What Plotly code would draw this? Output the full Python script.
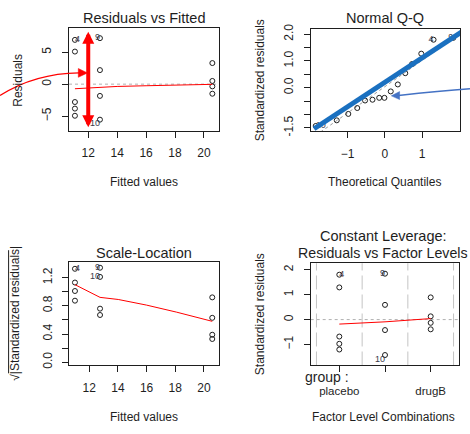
import plotly.graph_objects as go

# ---------------- data ----------------
# Panel 1: Residuals vs Fitted
rvf_fitted = [11.08, 11.08, 11.08, 11.08, 11.08, 12.81, 12.81, 12.81, 12.81, 20.58, 20.58, 20.58, 20.58]
rvf_resid = [6.93, 5.10, -2.80, -3.83, -4.95, 7.20, 2.20, -1.84, -5.56, 3.30, 0.50, -0.35, -1.50]
rvf_smooth_x = [11.08, 12.0, 12.81, 14.0, 16.0, 18.0, 20.58]
rvf_smooth_y = [-0.72, -0.58, -0.45, -0.36, -0.25, -0.15, -0.03]
rvf_ids = ["4", "9", "10"]
rvf_id_x = [11.08, 12.81, 12.81]
rvf_id_y = [6.93, 7.20, -5.56]
rvf_id_pos = ["middle right", "middle left", "bottom left"]
rvf_xticks = [12, 14, 16, 18, 20]
rvf_yticks = [-5, 0, 5]

# Panel 2: Normal Q-Q
qq_theoretical = [-1.855, -1.29, -0.98, -0.74, -0.53, -0.33, -0.15, -0.01, 0.16, 0.35, 0.55, 0.73, 0.98, 1.31, 1.84]
qq_std_resid = [-1.43, -1.22, -0.98, -0.76, -0.48, -0.45, -0.38, -0.38, -0.14, 0.12, 0.54, 0.88, 1.27, 1.79, 1.86]
qq_ids = ["10", "4", "9"]
qq_id_x = [-1.855, 1.31, 1.84]
qq_id_y = [-1.43, 1.79, 1.86]
qq_id_pos = ["middle right", "middle left", "middle left"]
qq_ref_intercept = 0.035
qq_ref_slope = 0.98
qq_highlight_x = [-1.90, 2.07]
qq_highlight_y = [-1.535, 2.09]
qq_xticks = [-1, 0, 1]
qq_yticks = [-1.5, -1.0, -0.5, 0.0, 0.5, 1.0, 1.5, 2.0]
qq_yticktext = ["-1.5", "", "", "0.0", "", "1.0", "", "2.0"]

# Panel 3: Scale-Location
sl_fitted = [11.0, 11.0, 11.0, 11.0, 12.75, 12.75, 12.75, 12.75, 20.58, 20.58, 20.58, 20.58]
sl_sqrt_std = [1.325, 1.13, 1.01, 0.873, 1.34, 1.21, 0.76, 0.67, 0.92, 0.63, 0.39, 0.33]
sl_smooth_x = [11.0, 12.75, 14.02, 16.0, 18.1, 20.58]
sl_smooth_y = [1.10, 0.92, 0.89, 0.81, 0.71, 0.58]
sl_ids = ["4", "9", "10"]
sl_id_x = [11.0, 12.75, 12.75]
sl_id_y = [1.325, 1.34, 1.21]
sl_id_pos = ["middle right", "middle left", "middle left"]
sl_xticks = [12, 14, 16, 18, 20]
sl_yticks = [0.0, 0.2, 0.4, 0.6, 0.8, 1.0, 1.2]
sl_yticktext = ["0.0", "", "0.4", "", "0.8", "", "1.2"]

# Panel 4: Constant Leverage
cl_level_pos = [0, 1, 2]
cl_level_labels = ["placebo", "", "drugB"]
cl_x = [0, 0, 0, 0, 0, 1, 1, 1, 1, 2, 2, 2, 2]
cl_std_resid = [1.80, 1.29, -0.68, -0.97, -1.20, 1.84, 0.59, -0.42, -1.42, 0.89, 0.13, -0.13, -0.39]
cl_smooth_x = [0, 1, 2]
cl_smooth_y = [-0.18, -0.09, 0.04]
cl_separators = [-0.5, 0.5, 1.5, 2.5]
cl_ids = ["4", "9", "10"]
cl_id_x = [0, 1, 1]
cl_id_y = [1.80, 1.84, -1.42]
cl_id_pos = ["middle right", "middle left", "bottom left"]
cl_yticks = [-1, 0, 1, 2]

# ---------------- styling ----------------
W, H = 470, 434
FONT = "Liberation Sans, Arial, sans-serif"
INK = "#1e1e1e"
ID_COL = "#3a3a4a"


def px(x):
    return x / W


def py(y):
    return 1 - y / H


def xaxis(domain, rng, tickvals, anchor, ticktext=None, standoff=5):
    d = dict(domain=domain, range=rng, tickvals=tickvals, anchor=anchor, showline=True, mirror=True,
             linecolor=INK, linewidth=1, ticks="outside", ticklen=6, tickcolor=INK,
             showgrid=False, zeroline=False, fixedrange=True,
             tickfont=dict(family=FONT, size=12, color=INK), ticklabelstandoff=standoff)
    if ticktext is not None:
        d["ticktext"] = ticktext
    return d


def yaxis(domain, rng, tickvals, anchor, ticktext=None, standoff=6):
    d = xaxis(domain, rng, tickvals, anchor, ticktext, standoff)
    d["tickangle"] = -90
    return d


fig = go.Figure()
marker = dict(symbol="circle-open", size=5, color=INK, line=dict(width=1, color=INK))
idfont = dict(family=FONT, size=9, color=ID_COL)

# Panel 1
fig.add_trace(go.Scatter(x=rvf_fitted, y=rvf_resid, mode="markers", marker=marker, xaxis="x", yaxis="y"))
fig.add_trace(go.Scatter(x=rvf_smooth_x, y=rvf_smooth_y, mode="lines", line=dict(color="red", width=1),
                         xaxis="x", yaxis="y"))
fig.add_trace(go.Scatter(x=rvf_id_x, y=rvf_id_y, mode="text", text=rvf_ids, textposition=rvf_id_pos,
                         textfont=idfont, xaxis="x", yaxis="y"))

# Panel 2
xr2 = [-1.99, 2.02]
fig.add_trace(go.Scatter(x=xr2, y=[qq_ref_intercept + qq_ref_slope * v for v in xr2], mode="lines",
                         line=dict(color="#9a9a9a", width=1, dash="dot"), xaxis="x2", yaxis="y2"))
fig.add_trace(go.Scatter(x=qq_theoretical, y=qq_std_resid, mode="markers", marker=marker, xaxis="x2", yaxis="y2"))
fig.add_trace(go.Scatter(x=qq_id_x, y=qq_id_y, mode="text", text=qq_ids, textposition=qq_id_pos,
                         textfont=idfont, xaxis="x2", yaxis="y2"))
fig.add_trace(go.Scatter(x=qq_highlight_x, y=qq_highlight_y, mode="lines",
                         line=dict(color="#1a70c0", width=5), xaxis="x2", yaxis="y2"))

# Panel 3
fig.add_trace(go.Scatter(x=sl_fitted, y=sl_sqrt_std, mode="markers", marker=marker, xaxis="x3", yaxis="y3"))
fig.add_trace(go.Scatter(x=sl_smooth_x, y=sl_smooth_y, mode="lines", line=dict(color="red", width=1),
                         xaxis="x3", yaxis="y3"))
fig.add_trace(go.Scatter(x=sl_id_x, y=sl_id_y, mode="text", text=sl_ids, textposition=sl_id_pos,
                         textfont=idfont, xaxis="x3", yaxis="y3"))

# Panel 4
fig.add_trace(go.Scatter(x=cl_x, y=cl_std_resid, mode="markers", marker=marker, xaxis="x4", yaxis="y4"))
fig.add_trace(go.Scatter(x=cl_smooth_x, y=cl_smooth_y, mode="lines", line=dict(color="red", width=1),
                         xaxis="x4", yaxis="y4"))
fig.add_trace(go.Scatter(x=cl_id_x, y=cl_id_y, mode="text", text=cl_ids, textposition=cl_id_pos,
                         textfont=idfont, xaxis="x4", yaxis="y4"))

shapes = []
# dotted zero lines
for xr, yr in [("x domain", "y"), ("x4 domain", "y4")]:
    shapes.append(dict(type="line", xref=xr, yref=yr, x0=0, x1=1, y0=0, y1=0, layer="below",
                       line=dict(color="#b0b0b0", width=1, dash="dot")))
# factor separators
for s in cl_separators:
    shapes.append(dict(type="line", xref="x4", yref="y4 domain", x0=s, x1=s, y0=0, y1=1, layer="below",
                       line=dict(color="#c4c4c4", width=1, dash="14px,5px")))


def P(x, y):
    return f"{px(x):.5f},{py(y):.5f}"


# red curved arrow (left of panel 1)
shapes.append(dict(type="path", xref="paper", yref="paper",
                   path=f"M{P(0, 92.7)} Q{P(35, 70)} {P(79, 69.5)}",
                   line=dict(color="red", width=1.2)))
shapes.append(dict(type="path", xref="paper", yref="paper",
                   path=f"M{P(87.5, 69.5)} L{P(78.3, 65.0)} L{P(78.3, 74.0)} Z",
                   fillcolor="red", line=dict(color="red", width=0.5)))
# blue curved arrow (right of panel 2)
shapes.append(dict(type="path", xref="paper", yref="paper",
                   path=f"M{P(470, 85.7)} Q{P(440, 87.8)} {P(398.5, 92.6)}",
                   line=dict(color="#4472c4", width=1.5)))
shapes.append(dict(type="path", xref="paper", yref="paper",
                   path=f"M{P(391.3, 93.0)} L{P(399.6, 88.6)} L{P(399.6, 96.8)} Z",
                   fillcolor="#4472c4", line=dict(color="#4472c4", width=0.5)))
# overline of sqrt in Scale-Location y label
shapes.append(dict(type="line", xref="paper", yref="paper", x0=px(8.6), x1=px(8.6), y0=py(377), y1=py(251),
                   line=dict(color=INK, width=1)))

annotations = []


def txt(x, y, s, size=12, angle=0, anchor="center"):
    annotations.append(dict(x=px(x), y=py(y), xref="paper", yref="paper", text=s, showarrow=False,
                            textangle=angle, xanchor=anchor, yanchor="middle",
                            font=dict(family=FONT, size=size, color=INK)))


# titles
txt(144, 13.5, "Residuals vs Fitted", 14.5)
txt(385, 13.5, "Normal Q-Q", 14.5)
txt(144, 253.5, "Scale-Location", 14.5)
txt(383, 236, "Constant Leverage:", 14.5)
txt(382.5, 253.5, "Residuals vs Factor Levels", 14.2)
# axis titles
txt(144, 181.5, "Fitted values")
txt(18.5, 77, "Residuals", angle=-90)
txt(384.5, 181.5, "Theoretical Quantiles")
txt(260, 77, "Standardized residuals", angle=-90)
txt(144, 421.5, "Fitted values")
txt(15, 316, "\u221a|Standardized residuals|", angle=-90)
txt(383.5, 421.5, "Factor Level Combinations")
txt(260, 316.5, "Standardized residuals", angle=-90)
txt(303, 381, "group :", 14, anchor="left")

# thick red double arrows on panel 1
for (x0, ytop, ybot) in [(12.0, 8.22, -7.0), (21.45, 4.85, -3.06)]:
    annotations.append(dict(x=x0, y=ytop, ax=x0, ay=ybot, xref="x", yref="y", axref="x", ayref="y",
                            text="", showarrow=True, arrowside="end+start", arrowhead=2, startarrowhead=2,
                            arrowsize=0.6, startarrowsize=0.6, arrowwidth=4, arrowcolor="red",
                            standoff=0, startstandoff=0))

fig.update_layout(
    width=W, height=H, autosize=False, margin=dict(l=0, r=0, t=0, b=0),
    paper_bgcolor="white", plot_bgcolor="white", showlegend=False,
    xaxis=xaxis([px(69), px(219)], [10.67, 21.04], rvf_xticks, "y"),
    yaxis=yaxis([py(129), py(24)], [-7.34, 8.72], rvf_yticks, "x"),
    xaxis2=xaxis([px(310.7), px(460)], [-1.99, 2.02], qq_xticks, "y2"),
    yaxis2=yaxis([py(129.3), py(24.3)], [-1.63, 2.2], qq_yticks, "x2", qq_yticktext),
    xaxis3=xaxis([px(69.3), px(219)], [10.605, 21.05], sl_xticks, "y3"),
    yaxis3=yaxis([py(369), py(263.3)], [-0.046, 1.418], sl_yticks, "x3", sl_yticktext),
    xaxis4=xaxis([px(310.7), px(459.3)], [-0.626, 2.626], cl_level_pos, "y4", cl_level_labels, standoff=9),
    yaxis4=yaxis([py(369), py(264.3)], [-1.84, 2.26], cl_yticks, "x4"),
    shapes=shapes, annotations=annotations,
)
fig.layout.xaxis4.tickfont.size = 11.5

fig.write_html("out.html", config={"displayModeBar": False},
               post_script="document.body.style.margin='0';")
